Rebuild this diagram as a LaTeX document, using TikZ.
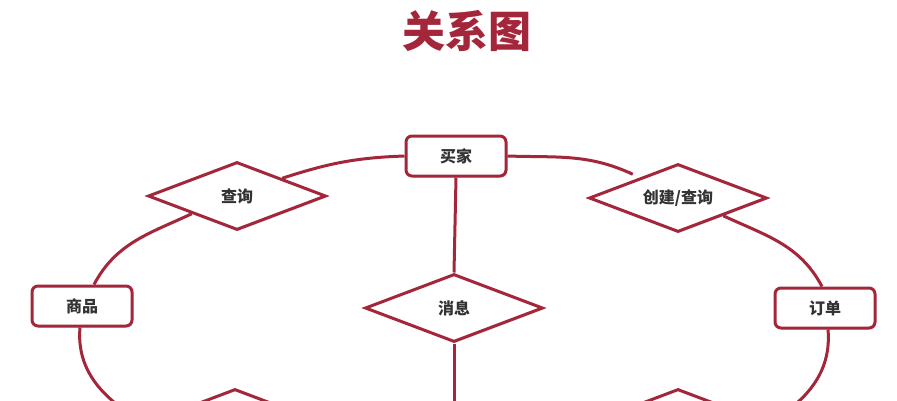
\documentclass[tikz,border=0pt]{standalone}
\usepackage{fontspec}
\setmainfont{Noto Sans CJK SC}
\usetikzlibrary{shapes.geometric,calc,shadows,backgrounds}
\definecolor{er}{HTML}{A3263A}
\definecolor{tx}{HTML}{333333}
\tikzset{
  shade/.style={drop shadow={opacity=0.25,shadow xshift=1.2pt,shadow yshift=-1.5pt}},
  entity/.style={draw=er,line width=3pt,rounded corners=6pt,fill=white,
    minimum width=100pt,minimum height=40pt,inner sep=0pt,text=tx,
    font=\fontsize{16}{16}\selectfont\bfseries,shade},
  relation/.style={diamond,aspect=2.6,draw=er,line width=3pt,fill=white,
    minimum width=178pt,minimum height=68pt,inner sep=0pt,text=tx,
    font=\fontsize{16}{16}\selectfont\bfseries,shade},
  link/.style={draw=er,line width=3pt}
}
\begin{document}
\begin{tikzpicture}[x=1pt,y=-1pt]
\useasboundingbox (0,0) rectangle (897,400);
\clip (0,0) rectangle (897,400);
\node[text=er,font=\fontsize{43}{43}\selectfont\bfseries] (title) at (467,31) {关系图};
\node[entity] (buyer) at (456,156) {买家};
\node[entity] (goods) at (82,306) {商品};
\node[entity] (order) at (825,308) {订单};
\node[relation] (query) at (237,196) {查询};
\node[relation] (create) at (678,198) {创建/查询};
\node[relation] (msg) at (454,308) {消息};
\node[relation] (bl) at (235,423) {};
\node[relation] (br) at (678,423) {};
\coordinate (down) at (454,460);
\begin{scope}[on background layer]
\clip (0,0) rectangle (897,400);
\draw[link] (buyer.west) to[out=182,in=18] ($(query.north)!0.5!(query.east)$);
\draw[link] (buyer.east) to[out=-2,in=155] ($(create.north)!0.5!(create.west)+(0,-6)$);
\draw[link] ($(query.west)!0.5!(query.south)$) to[out=205,in=62] ($(goods.north)+(12,0)$);
\draw[link] ($(create.east)!0.5!(create.south)$) to[out=-25,in=118] ($(order.north)+(-3,0)$);
\draw[link] ($(goods.south)+(-2,0)$) to[out=265,in=150] (bl.west);
\draw[link] ($(order.south)+(3,0)$) to[out=-85,in=30] (br.east);
\draw[link] (buyer.south) -- (msg.north);
\draw[link] (msg.south) -- (down);
\end{scope}
\end{tikzpicture}
\end{document}
